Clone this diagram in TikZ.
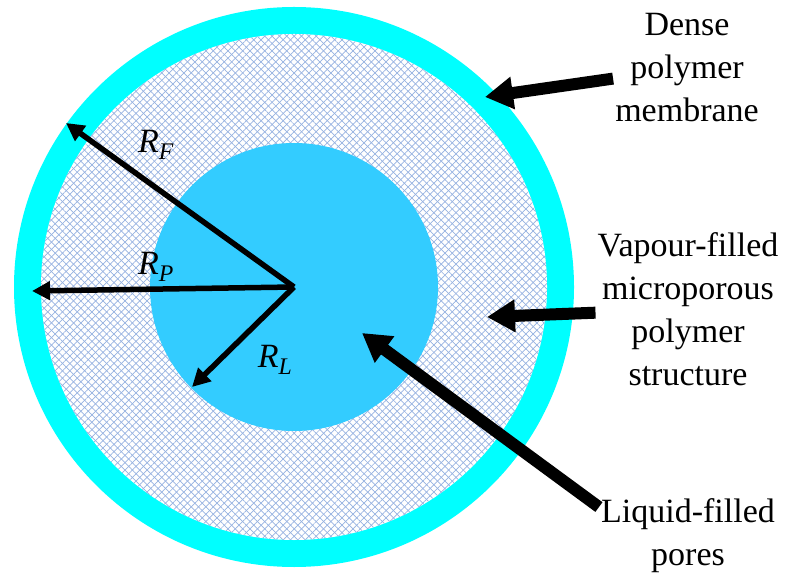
\documentclass[tikz,border=0pt]{standalone}
\usepackage{fontspec}
\setmainfont{Liberation Serif}
\usepackage{tikz}
\usetikzlibrary{arrows.meta, patterns.meta}

\definecolor{ringcyan}{RGB}{0,255,255}
\definecolor{liqblue}{RGB}{51,204,255}
\definecolor{hatchblue}{RGB}{150,178,225}

\begin{document}
\begin{tikzpicture}[
    x=1pt, y=1pt,
    lbl/.style={align=center, inner sep=2pt, font=\fontsize{34}{43}\selectfont},
    rad/.style={inner sep=0pt, font=\fontsize{34}{40}\selectfont},
    bigarr/.style={-{Triangle[length=28pt, width=31pt]}, line width=12pt},
    radarr/.style={-{Triangle[length=18pt, width=18pt]}, line width=5.5pt},
    poreshatch/.style={pattern={Lines[angle=#1, distance=5.2pt, line width=0.7pt]},
                       pattern color=hatchblue}
  ]
  \useasboundingbox (0,0) rectangle (786,573);

  % layers of the fibre
  \coordinate (c) at (294,286);
  \fill[ringcyan] (c) circle[radius=280];
  \fill[white] (c) circle[radius=253];
  \fill[poreshatch=45] (c) circle[radius=253];
  \fill[poreshatch=-45] (c) circle[radius=253];
  \fill[liqblue] (c) circle[radius=144];

  % arrow tips
  \coordinate (rf) at (66,450);
  \coordinate (rp) at (32,282);
  \coordinate (rl) at (192,186);
  \coordinate (memtip) at (485,476);
  \coordinate (vaptip) at (487,256);
  \coordinate (liqtip) at (362,240);

  % labels
  \node[lbl] (mem) at (687,505) {Dense\\polymer\\membrane};
  \node[lbl] (vap) at (688,264) {Vapour-filled\\microporous\\polymer\\structure};
  \node[lbl] (liq) at (688,37) {Liquid-filled\\pores};

  \node[rad] (rflbl) at (156,428) {\itshape R\textsubscript{F}};
  \node[rad] (rplbl) at (156,306) {\itshape R\textsubscript{P}};
  \node[rad] (rllbl) at (275,213) {\itshape R\textsubscript{L}};

  % radii
  \draw[radarr] (c) -- (rf);
  \draw[radarr] (c) -- (rp);
  \draw[radarr] (c) -- (rl);

  % pointers
  \draw[bigarr] (mem) -- (memtip);
  \draw[bigarr] (vap) -- (vaptip);
  \draw[bigarr] (liq.162) -- (liqtip);
\end{tikzpicture}
\end{document}
